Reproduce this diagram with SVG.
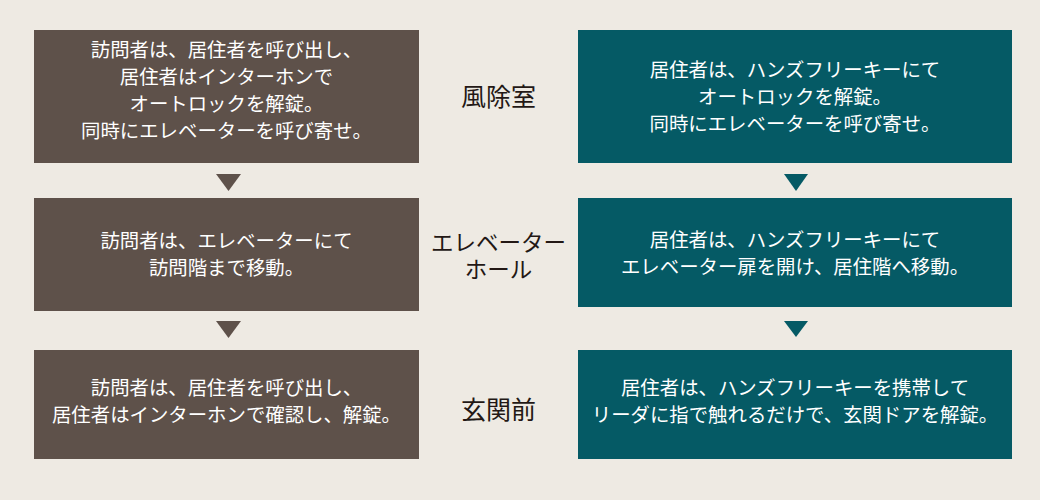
<svg xmlns="http://www.w3.org/2000/svg" width="1040" height="500" viewBox="0 0 1040 500">
<style>
.bg{fill:#eeeae3}
.brown{fill:#5e514a}
.teal{fill:#055a65}
.t{font-family:"Noto Sans CJK JP","Noto Sans CJK SC",sans-serif;font-size:19.4px;fill:#ffffff;text-anchor:middle}
.lbl{font-family:"Liberation Serif","Noto Sans CJK JP",serif;font-size:25px;fill:#231815;text-anchor:middle}
.lbl2{font-size:22.5px}
</style>
<rect class="bg" x="0" y="0" width="1040" height="500"/>
<g id="connectors">
<polygon class="brown" points="216,174 241,174 228.5,191"/>
<polygon class="brown" points="216,321 241,321 228.5,338"/>
<polygon class="teal" points="784,174 808,174 796,191"/>
<polygon class="teal" points="784,321 808,321 796,337"/>
</g>
<g id="visitor-windbreak">
<rect class="brown" x="34" y="30" width="385" height="133"/>
<text class="t" x="226.5" y="57">訪問者は、居住者を呼び出し、</text>
<text class="t" x="226.5" y="84">居住者はインターホンで</text>
<text class="t" x="226.5" y="111">オートロックを解錠。</text>
<text class="t" x="226.5" y="138">同時にエレベーターを呼び寄せ。</text>
</g>
<g id="visitor-elevator">
<rect class="brown" x="34" y="198" width="385" height="113"/>
<text class="t" x="226.5" y="248">訪問者は、エレベーターにて</text>
<text class="t" x="226.5" y="275">訪問階まで移動。</text>
</g>
<g id="visitor-entrance">
<rect class="brown" x="34" y="350" width="385" height="109"/>
<text class="t" x="226.5" y="395">訪問者は、居住者を呼び出し、</text>
<text class="t" x="226.5" y="422">居住者はインターホンで確認し、解錠。</text>
</g>
<g id="label-windbreak">
<text class="lbl" x="498.5" y="106">風除室</text>
</g>
<g id="label-elevator-hall">
<text class="lbl lbl2" x="498.5" y="251">エレベーター</text>
<text class="lbl lbl2" x="498.5" y="278">ホール</text>
</g>
<g id="label-entrance">
<text class="lbl" x="498.5" y="419">玄関前</text>
</g>
<g id="resident-windbreak">
<rect class="teal" x="578" y="30" width="434" height="133"/>
<text class="t" x="795" y="77">居住者は、ハンズフリーキーにて</text>
<text class="t" x="795" y="104">オートロックを解錠。</text>
<text class="t" x="795" y="131">同時にエレベーターを呼び寄せ。</text>
</g>
<g id="resident-elevator">
<rect class="teal" x="578" y="198" width="434" height="109"/>
<text class="t" x="795" y="247">居住者は、ハンズフリーキーにて</text>
<text class="t" x="795" y="274">エレベーター扉を開け、居住階へ移動。</text>
</g>
<g id="resident-entrance">
<rect class="teal" x="578" y="350" width="434" height="109"/>
<text class="t" x="795" y="395">居住者は、ハンズフリーキーを携帯して</text>
<text class="t" x="795" y="422">リーダに指で触れるだけで、玄関ドアを解錠。</text>
</g>
</svg>
